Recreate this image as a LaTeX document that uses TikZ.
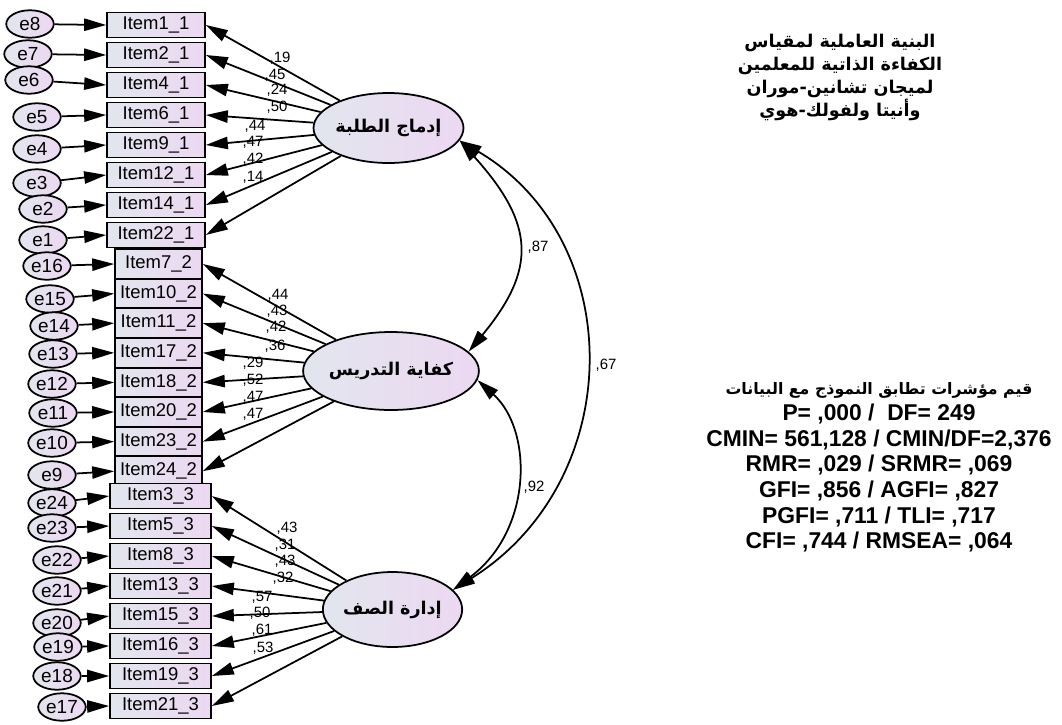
\documentclass[tikz,border=0pt]{standalone}
\usepackage{fontspec}
\setmainfont{Liberation Sans}
\newfontfamily\arabicfont[Script=Arabic]{DejaVu Sans}
\TeXXeTstate=1
\usetikzlibrary{shapes.geometric,arrows.meta}
\definecolor{amosleft}{RGB}{226,230,238}
\definecolor{amosright}{RGB}{236,216,242}

\begin{document}
\begin{tikzpicture}[x=0.02cm,y=-0.02cm,
    item/.style={draw,line width=1pt,left color=amosleft,right color=amosright,
      inner sep=0pt,font=\fontsize{10.5}{12}\selectfont},
    err/.style={draw,ellipse,line width=1pt,left color=amosleft,right color=amosright,
      inner sep=0pt,minimum width=0.95cm,minimum height=0.55cm,font=\fontsize{10.8}{12}\selectfont},
    factor/.style={draw,ellipse,line width=1pt,left color=amosleft,right color=amosright,
      inner sep=0pt,font=\arabicfont\bfseries\fontsize{10}{12}\selectfont},
    arr/.style={-{Triangle[length=12.5pt,width=7pt]},line width=1pt},
    cov/.style={{Triangle[length=12.5pt,width=7pt]}-{Triangle[length=12.5pt,width=7pt]},line width=1pt},
    est/.style={inner sep=0pt,font=\fontsize{8.5}{9}\selectfont}]
    \useasboundingbox (0,0) rectangle (1062,724);
    %% Factors
    \node[factor,minimum width=2.54cm,minimum height=1.4cm] (F1) at (388.5,128) {\beginR إدماج الطلبة\endR};
    \node[factor,minimum width=2.62cm,minimum height=1.56cm] (F2) at (391,371) {\beginR كفاية التدريس\endR};
    \node[factor,minimum width=2.3cm,minimum height=1.5cm] (F3) at (392.5,609.5) {\beginR إدارة الصف\endR};
    %% Items and errors
    \foreach \k/\it/\y/\e/\ex/\ey in {1/1/25/8/30/24,2/2/55/7/28/54,3/4/85/6/29/80,4/6/115/5/37/117,
        5/9/145/4/37/149,6/12/175/3/37/183,7/14/205/2/43/209,8/22/235/1/43/240}{
      \node[item,minimum width=1.96cm,minimum height=0.5cm] (a\k) at (156,\y) {Item\it\_1};
      \node[err] (e\e) at (\ex,\ey) {e\e};
      \draw[arr] (e\e) -- (a\k.west);
      \draw[arr] (F1) -- (a\k.east);
    }
    \foreach \k/\it/\y/\e/\ex/\ey in {1/7/264/16/47/266,2/10/293.6/15/50/299,3/11/323.2/14/54/326,
        4/17/352.8/13/53/354,5/18/382.4/12/52/384,6/20/412/11/53/413,7/23/441.6/10/52/443,8/24/471.2/9/52/475}{
      \node[item,minimum width=1.74cm,minimum height=0.59cm] (b\k) at (158.5,\y) {Item\it\_2};
      \node[err] (e\e) at (\ex,\ey) {e\e};
      \draw[arr] (e\e) -- (b\k.west);
      \draw[arr] (F2) -- (b\k.east);
    }
    \foreach \k/\it/\y/\e/\ex/\ey in {1/3/496/24/52/503,2/5/526/23/52/528,3/8/556/22/57/560,4/13/586/21/57/591,
        5/15/616/20/57/623,6/16/646/19/58/647,7/19/676/18/57/676,8/21/706/17/62/707}{
      \node[item,minimum width=2.02cm,minimum height=0.5cm] (c\k) at (160.5,\y) {Item\it\_3};
      \node[err] (e\e) at (\ex,\ey) {e\e};
      \draw[arr] (e\e) -- (c\k.west);
      \draw[arr] (F3) -- (c\k.east);
    }
    %% Loadings
    \foreach \x/\y/\v in {280/58/{,19},275/75/{,45},277/90/{,24},277/107/{,50},255/126/{,44},253/142/{,47},253/159/{,42},253/177/{,14},
        278/295/{,44},277/311/{,43},276/327/{,42},275/346/{,36},253/363/{,29},253/380/{,52},253/397/{,47},253/414/{,47},
        287/528/{,43},285/545/{,31},285/561/{,43},283/578/{,32},262/597/{,57},260/613/{,50},262/630/{,61},263/648/{,53}}
      \node[est] at (\x,\y) {\v};
    %% Correlations
    \draw[cov] (F1.-10) .. controls (536,225) and (536,270) .. (F2.14);
    \draw[cov] (F1.-10) .. controls (628,240) and (628,480) .. (F3.18);
    \draw[cov] (F2.-6) .. controls (533,430) and (533,530) .. (F3.18);
    \node[est] (r12) at (538,247) {,87};
    \node[est] (r23) at (534,487) {,92};
    \node[est] (r13) at (606,365) {,67};
    %% Title
    \node[align=center,font=\arabicfont\bfseries\fontsize{10}{13}\selectfont] (title) at (840,77.5)
      {\beginR البنية العاملية لمقياس\endR\\ \beginR الكفاءة الذاتية للمعلمين\endR\\
       \beginR لميجان تشانين-موران\endR\\ \beginR وأنيتا ولفولك-هوي\endR};
    %% Fit indices
    \node[align=center,font=\bfseries\fontsize{13}{14.6}\selectfont] (fit) at (879,467.5)
      {{\arabicfont\fontsize{9}{14.6}\selectfont\beginR قيم مؤشرات تطابق النموذج مع البيانات\endR}\\
       P= ,000 /\ \ DF= 249\\ CMIN= 561,128 / CMIN/DF=2,376\\ RMR= ,029 / SRMR= ,069\\
       GFI= ,856 / AGFI= ,827\\ PGFI= ,711 / TLI= ,717\\ CFI= ,744 / RMSEA= ,064};
\end{tikzpicture}
\end{document}
